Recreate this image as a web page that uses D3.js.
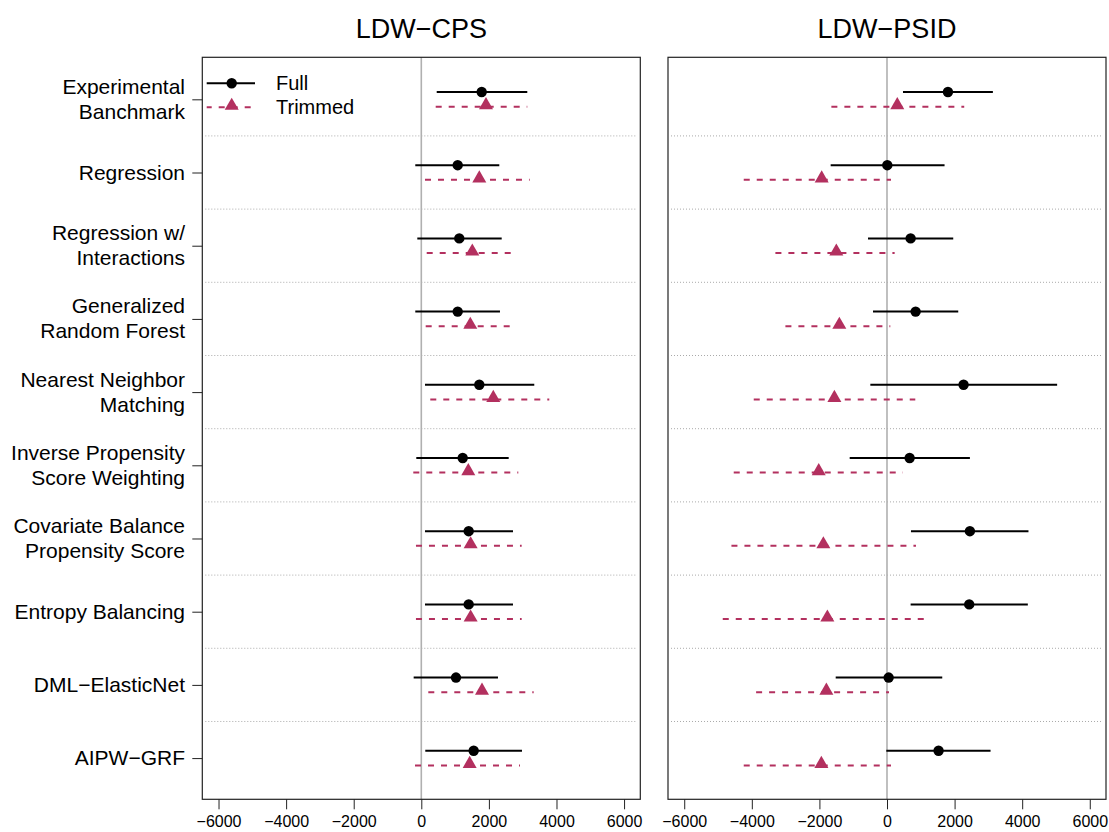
<!DOCTYPE html>
<html>
<head>
<meta charset="utf-8">
<script src="https://cdn.jsdelivr.net/npm/d3@7"></script>
<style>
  body { margin: 0; background: #fff; }
  svg text { font-family: "Liberation Sans", Arial, sans-serif; fill: #000; }
</style>
</head>
<body>
<svg id="chart" width="1109" height="832"></svg>
<script>
// row labels, top to bottom
var categories = ["Experimental\nBanchmark", "Regression", "Regression w/\nInteractions",
  "Generalized\nRandom Forest", "Nearest Neighbor\nMatching", "Inverse Propensity\nScore Weighting",
  "Covariate Balance\nPropensity Score", "Entropy Balancing", "DML\u2212ElasticNet", "AIPW\u2212GRF"];

var panelTitles = ["LDW\u2212CPS", "LDW\u2212PSID"];
var seriesNames = ["Full", "Trimmed"];
var xTicks = [-6000, -4000, -2000, 0, 2000, 4000, 6000];

// LDW-CPS
var cpsFullEst = [1787, 1077, 1124, 1077, 1716, 1225, 1402, 1402, 1027, 1550];
var cpsFullLo  = [456, -178, -118, -178, 109, -148, 109, 109, -226, 118];
var cpsFullHi  = [3136, 2308, 2379, 2328, 3343, 2586, 2713, 2713, 2269, 2979];
var cpsTrimEst = [1914, 1716, 1509, 1450, 2130, 1391, 1460, 1460, 1796, 1431];
var cpsTrimLo  = [426, 109, 160, 130, 266, -237, -158, -158, 207, -186];
var cpsTrimHi  = [3136, 3207, 2852, 2793, 3787, 2870, 2970, 2970, 3325, 2920];

// LDW-PSID
var psidFullEst = [1803, 9, 699, 847, 2266, 670, 2453, 2433, 49, 1526];
var psidFullLo  = [473, -1667, -562, -414, -493, -1104, 709, 699, -1518, -20];
var psidFullHi  = [3133, 1703, 1960, 2108, 5034, 2453, 4186, 4167, 1635, 3064];
var psidTrimEst = [304, -1933, -1499, -1410, -1557, -2020, -1883, -1765, -1794, -1942];
var psidTrimLo  = [-1646, -4239, -3302, -3006, -3943, -4535, -4603, -4860, -3873, -4239];
var psidTrimHi  = [2285, 118, 226, 98, 837, 473, 857, 1162, 59, 118];

var trimColor = "#b3305f";

var svg = d3.select("#chart");

var y = d3.scaleLinear().domain([-0.574, 9.563]).range([57.3, 799.3]);

var panels = [
  {x0: 202.3, x1: 640.3, title: panelTitles[0],
   full: [cpsFullEst, cpsFullLo, cpsFullHi], trim: [cpsTrimEst, cpsTrimLo, cpsTrimHi]},
  {x0: 668, x1: 1106, title: panelTitles[1],
   full: [psidFullEst, psidFullLo, psidFullHi], trim: [psidTrimEst, psidTrimLo, psidTrimHi]}
];

function rows(arr){
  return categories.map(function(c, i){ return {i: i, est: arr[0][i], lo: arr[1][i], hi: arr[2][i]}; });
}

var tri = d3.symbol().type(d3.symbolTriangle).size(85);

panels.forEach(function(p, k){
  var x = d3.scaleLinear().domain([-6480, 6480]).range([p.x0, p.x1]);
  var g = svg.append("g");

  // separators
  g.selectAll(".sep").data(d3.range(categories.length - 1)).enter().append("line")
    .attr("x1", p.x0 + 3).attr("x2", p.x1 - 3)
    .attr("y1", function(d){ return y(d + 0.5); })
    .attr("y2", function(d){ return y(d + 0.5); })
    .attr("stroke", "#aaa").attr("stroke-width", 1).attr("stroke-dasharray", "1,2");

  // zero line
  g.append("line")
    .attr("x1", x(0)).attr("x2", x(0))
    .attr("y1", y.range()[0]).attr("y2", y.range()[1])
    .attr("stroke", "#b0b0b0").attr("stroke-width", 1.6);

  // full sample
  var full = rows(p.full);
  g.selectAll(".fl").data(full).enter().append("line")
    .attr("x1", function(d){ return x(d.lo); }).attr("x2", function(d){ return x(d.hi); })
    .attr("y1", function(d){ return y(d.i - 0.1); }).attr("y2", function(d){ return y(d.i - 0.1); })
    .attr("stroke", "#000").attr("stroke-width", 2);
  g.selectAll(".fp").data(full).enter().append("circle")
    .attr("cx", function(d){ return x(d.est); }).attr("cy", function(d){ return y(d.i - 0.1); })
    .attr("r", 5.2).attr("fill", "#000");

  // trimmed sample
  var trim = rows(p.trim);
  g.selectAll(".tl").data(trim).enter().append("line")
    .attr("x1", function(d){ return x(d.lo); }).attr("x2", function(d){ return x(d.hi); })
    .attr("y1", function(d){ return y(d.i + 0.1); }).attr("y2", function(d){ return y(d.i + 0.1); })
    .attr("stroke", trimColor).attr("stroke-width", 2).attr("stroke-dasharray", "6,7");
  g.selectAll(".tp").data(trim).enter().append("path")
    .attr("d", tri)
    .attr("transform", function(d){ return "translate(" + x(d.est) + "," + (y(d.i + 0.1) - 1.5) + ")"; })
    .attr("fill", trimColor);

  // box
  g.append("rect")
    .attr("x", p.x0).attr("y", y.range()[0])
    .attr("width", p.x1 - p.x0).attr("height", y.range()[1] - y.range()[0])
    .attr("fill", "none").attr("stroke", "#222").attr("stroke-width", 1.2);

  // x axis
  var ax = g.append("g").attr("transform", "translate(0," + y.range()[1] + ")")
    .call(d3.axisBottom(x).tickValues(xTicks).tickSize(10).tickPadding(6)
      .tickFormat(function(d){ return d < 0 ? "\u2212" + Math.abs(d) : d; }));
  ax.select(".domain").remove();
  ax.selectAll("line").attr("stroke", "#222");
  ax.selectAll("text").style("font-size", "16px").style("font-family", "Liberation Sans, Arial, sans-serif");

  // title
  g.append("text")
    .attr("x", (p.x0 + p.x1) / 2).attr("y", 38)
    .attr("text-anchor", "middle").style("font-size", "27px")
    .text(p.title);

  if (k === 0) {
    // y axis ticks and labels
    var ay = g.append("g").attr("transform", "translate(" + p.x0 + ",0)")
      .call(d3.axisLeft(y).tickValues(d3.range(categories.length)).tickSize(10).tickFormat(""));
    ay.select(".domain").remove();
    ay.selectAll("line").attr("stroke", "#222");

    var lab = g.selectAll(".lab").data(categories).enter().append("text")
      .attr("text-anchor", "end").style("font-size", "21px")
      .attr("transform", function(d, i){ return "translate(185," + y(i) + ")"; });
    lab.each(function(d){
      var parts = d.split("\n");
      var t = d3.select(this);
      parts.forEach(function(s, j){
        t.append("tspan").attr("x", 0)
          .attr("y", (j - (parts.length - 1) / 2) * 25 + 7)
          .text(s);
      });
    });

    // legend
    var lg = g.append("g");
    var ly = [83.3, 107.3];
    lg.append("line").attr("x1", 206.7).attr("x2", 255).attr("y1", ly[0]).attr("y2", ly[0])
      .attr("stroke", "#000").attr("stroke-width", 2);
    lg.append("circle").attr("cx", 231.7).attr("cy", ly[0]).attr("r", 5.2).attr("fill", "#000");
    lg.append("line").attr("x1", 206.7).attr("x2", 255).attr("y1", ly[1]).attr("y2", ly[1])
      .attr("stroke", trimColor).attr("stroke-width", 2).attr("stroke-dasharray", "6,7")
      .attr("stroke-dashoffset", 1);
    lg.append("path").attr("d", tri).attr("transform", "translate(231.7," + (ly[1] - 1.5) + ")")
      .attr("fill", trimColor);
    lg.selectAll(".lt").data(seriesNames).enter().append("text")
      .attr("x", 276).attr("y", function(d, i){ return ly[i] + 7; })
      .style("font-size", "20px").text(function(d){ return d; });
  }
});
</script>
</body>
</html>
